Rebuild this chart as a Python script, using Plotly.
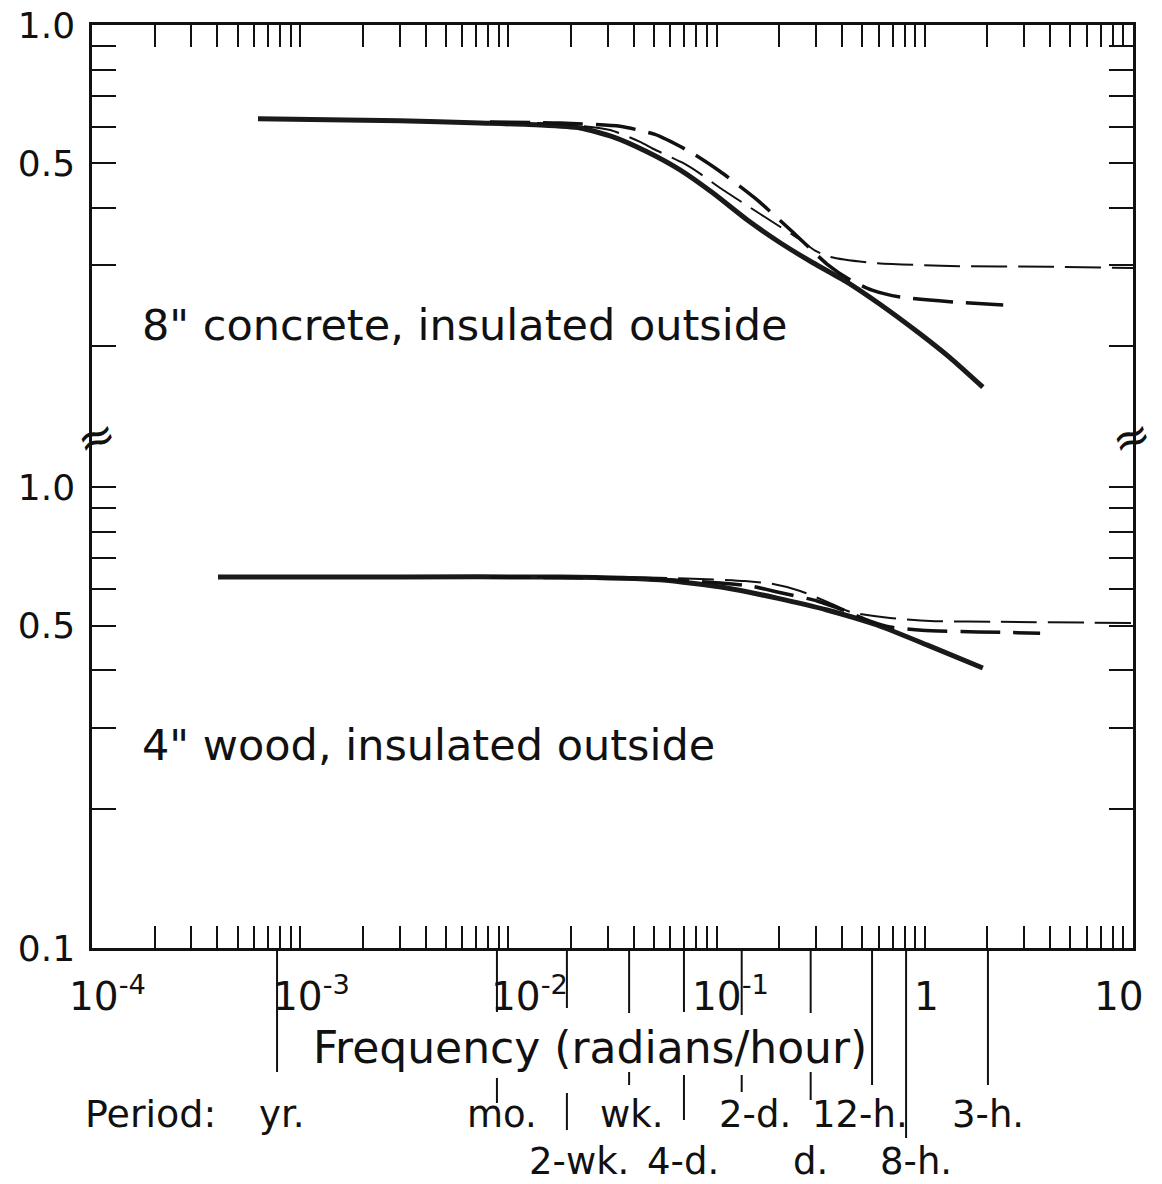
import math
import plotly.graph_objects as go

# ---------------- data ----------------
# Upper panel: 8" concrete, insulated outside
conc_exact_f = [6.27e-4, 3.01e-3, 7.31e-3, 0.0142, 0.0221, 0.0318, 0.0463, 0.0667, 0.0961,
                0.140, 0.202, 0.290, 0.423, 0.609, 0.948, 1.32, 1.90]
conc_exact_v = [0.625, 0.619, 0.612, 0.606, 0.597, 0.571, 0.530, 0.484, 0.431,
                0.377, 0.336, 0.304, 0.276, 0.247, 0.213, 0.189, 0.163]
conc_thin_f = [8.16e-3, 0.0177, 0.0308, 0.0429, 0.0495, 0.0690, 0.0833, 0.104, 0.162,
               0.252, 0.297, 0.351, 0.546, 1.32, 3.99, 10.0]
conc_thin_v = [0.615, 0.609, 0.591, 0.557, 0.538, 0.501, 0.475, 0.442, 0.388,
               0.341, 0.323, 0.313, 0.304, 0.299, 0.298, 0.296]
conc_long_f = [8.16e-3, 0.0177, 0.0344, 0.0506, 0.0745, 0.104, 0.153, 0.230, 0.339,
               0.437, 0.558, 0.760, 1.32, 2.38]
conc_long_v = [0.615, 0.612, 0.602, 0.578, 0.530, 0.480, 0.420, 0.356, 0.302,
               0.279, 0.265, 0.256, 0.250, 0.246]

# Lower panel: 4" wood, insulated outside
wood_exact_f = [4.03e-4, 3.01e-3, 0.0177, 0.0535, 0.112, 0.195, 0.339, 0.589, 1.03, 1.90]
wood_exact_v = [0.638, 0.638, 0.638, 0.629, 0.604, 0.574, 0.541, 0.502, 0.454, 0.405]
wood_thin_f = [8.16e-3, 0.0344, 0.0833, 0.137, 0.187, 0.252, 0.351, 0.437, 0.681, 1.06, 2.30, 10.0]
wood_thin_v = [0.638, 0.638, 0.632, 0.625, 0.616, 0.595, 0.560, 0.536, 0.520, 0.512, 0.510, 0.507]
wood_long_f = [8.16e-3, 0.0479, 0.104, 0.145, 0.206, 0.304, 0.405, 0.546, 0.681, 0.970, 1.80, 3.58]
wood_long_v = [0.638, 0.632, 0.619, 0.610, 0.589, 0.566, 0.541, 0.512, 0.497, 0.489, 0.485, 0.482]

# Period markers below the frequency axis
period_names = ["yr.", "mo.", "2-wk.", "wk.", "4-d.", "2-d.", "d.", "12-h.", "8-h.", "3-h."]
period_freq = [7.74e-4, 8.81e-3, 0.0191, 0.0380, 0.0697, 0.132, 0.283, 0.558, 0.813, 2.01]

# Axis ticks / labels
x_decades = [1e-4, 1e-3, 1e-2, 1e-1, 1, 10]
x_decade_labels = ["10<sup>-4</sup>", "10<sup>-3</sup>", "10<sup>-2</sup>", "10<sup>-1</sup>", "1", "10"]
y_upper_ticks = [0.2, 0.3, 0.4, 0.5, 0.6, 0.7, 0.8, 0.9, 1.0]
y_lower_ticks = [0.1, 0.2, 0.3, 0.4, 0.5, 0.6, 0.7, 0.8, 0.9, 1.0]
y_labels = {0.1: "0.1", 0.5: "0.5", 1.0: "1.0"}

panel_titles = ['8" concrete, insulated outside', '4" wood, insulated outside']
x_title = "Frequency (radians/hour)"

# ---------------- styles / layout positions ----------------
W, H = 1162, 1184
ML, MR, MT, MB = 92, 29, 25, 236
PH = H - MT - MB
PW = W - ML - MR
split = (948 - 437) / PH            # paper y of the axis break
upper_range = [math.log10(0.127), 0.0]
lower_range = [-1.0, 0.1085]
FONT = "DejaVu Sans"
INK = "#111111"

# horizontal offsets (px) of the hand-placed decade labels
decade_label_dx = [15, 11, 21, 14, 2, -14]
decade_label_bottom_px = 1021

# row, label x-shift (px), line segments (px below the axis)
period_style = [
    (1, 4, [(0, 124)]),
    (1, 5, [(0, 64), (130, 155)]),
    (2, 12, [(0, 60), (145, 182)]),
    (1, 2, [(0, 65), (124, 137)]),
    (2, -1, [(0, 64), (127, 172)]),
    (1, 13, [(0, 67), (127, 144)]),
    (2, 0, [(0, 65), (124, 152)]),
    (1, -12, [(0, 137)]),
    (2, 10, [(0, 190)]),
    (1, 0, [(0, 137)]),
]
row_y_px = {1: 1114, 2: 1161}

fig = go.Figure()

solid = dict(color="#1a1a1a", width=5)
thin = dict(color=INK, width=2, dash="36px,11px")
longd = dict(color=INK, width=3.5, dash="40px,13px")

for f, v, ln, xa, ya in [
    (conc_exact_f, conc_exact_v, solid, "x", "y"),
    (conc_thin_f, conc_thin_v, thin, "x", "y"),
    (conc_long_f, conc_long_v, longd, "x", "y"),
    (wood_exact_f, wood_exact_v, solid, "x2", "y2"),
    (wood_thin_f, wood_thin_v, thin, "x2", "y2"),
    (wood_long_f, wood_long_v, longd, "x2", "y2"),
]:
    fig.add_trace(go.Scatter(x=f, y=v, mode="lines", line=dict(shape="spline", smoothing=0.6, **ln),
                             xaxis=xa, yaxis=ya, showlegend=False, hoverinfo="skip"))

x_tickvals = []
for e in range(-4, 1):
    for m in range(1, 10):
        x_tickvals.append(m * 10.0 ** e)
x_tickvals.append(10.0)

axis_common = dict(showline=True, linecolor=INK, linewidth=2.5, ticks="inside", tickcolor=INK,
                   tickwidth=2, showgrid=False, zeroline=False, fixedrange=True, automargin=False)

fig.update_layout(
    width=W, height=H,
    margin=dict(l=ML, r=MR, t=MT, b=MB, autoexpand=False),
    paper_bgcolor="white", plot_bgcolor="white",
    font=dict(family=FONT, color=INK),
    xaxis=dict(type="log", range=[-4, 1], anchor="y", side="top", tickvals=x_tickvals,
               showticklabels=False, ticklen=22, **axis_common),
    xaxis2=dict(type="log", range=[-4, 1], anchor="y2", side="bottom", tickvals=x_tickvals,
                showticklabels=False, ticklen=22, **axis_common),
    yaxis=dict(type="log", range=upper_range, domain=[split, 1], anchor="x", mirror="ticks",
               tickvals=y_upper_ticks, ticktext=[y_labels.get(t, "") for t in y_upper_ticks],
               ticklen=24, tickfont=dict(size=36, family=FONT), ticklabelstandoff=7, **axis_common),
    yaxis2=dict(type="log", range=lower_range, domain=[0, split], anchor="x2", mirror="ticks",
                tickvals=y_lower_ticks, ticktext=[y_labels.get(t, "") for t in y_lower_ticks],
                ticklen=24, tickfont=dict(size=36, family=FONT), ticklabelstandoff=7, **axis_common),
)

ann = []
# decade labels of the frequency axis
for d, lab, dx in zip(x_decades, x_decade_labels, decade_label_dx):
    ann.append(dict(text=lab, xref="x2", yref="paper", x=math.log10(d),
                    y=(948 - decade_label_bottom_px) / PH, xanchor="center", yanchor="bottom",
                    xshift=dx, showarrow=False, font=dict(size=39, family=FONT, color=INK)))
# panel titles
ann.append(dict(text=panel_titles[0], xref="paper", yref="paper", x=(140 - ML) / PW,
                y=(948 - 325) / PH, xanchor="left", yanchor="middle", showarrow=False,
                font=dict(size=43, family=FONT, color=INK)))
ann.append(dict(text=panel_titles[1], xref="paper", yref="paper", x=(140 - ML) / PW,
                y=(948 - 745) / PH, xanchor="left", yanchor="middle", showarrow=False,
                font=dict(size=43, family=FONT, color=INK)))
# x title
ann.append(dict(text=x_title, xref="paper", yref="paper", x=(590 - ML) / PW,
                y=(948 - 1047) / PH, xanchor="center", yanchor="middle", showarrow=False,
                font=dict(size=44, family=FONT, color=INK)))
# "Period:"
ann.append(dict(text="Period:", xref="paper", yref="paper", x=(150 - ML) / PW,
                y=(948 - row_y_px[1]) / PH, xanchor="center", yanchor="middle", showarrow=False,
                font=dict(size=38, family=FONT, color=INK)))
# break marks
for xp in (0, 1):
    ann.append(dict(text="≈", xref="paper", yref="paper", x=xp, y=split, xanchor="center",
                    yanchor="middle", showarrow=False, xshift=4 if xp == 0 else -2,
                    textangle=-20, font=dict(size=46, family=FONT, color=INK)))

shapes = []
for name, fq, (row, dx, segs) in zip(period_names, period_freq, period_style):
    for a, b in segs:
        shapes.append(dict(type="line", xref="x2", yref="paper", x0=fq, x1=fq,
                           y0=-a / PH, y1=-b / PH, line=dict(color=INK, width=2)))
    ann.append(dict(text=name, xref="x2", yref="paper", x=math.log10(fq),
                    y=(948 - row_y_px[row]) / PH, xanchor="center", yanchor="middle",
                    xshift=dx, showarrow=False, font=dict(size=37, family=FONT, color=INK)))

fig.update_layout(annotations=ann, shapes=shapes)
fig.write_html("out.html")
